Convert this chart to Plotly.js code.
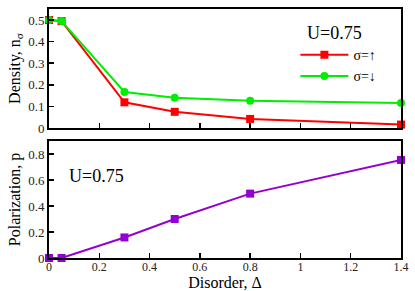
<!DOCTYPE html>
<html>
<head>
<meta charset="utf-8">
<script src="https://cdn.plot.ly/plotly-3.0.1.min.js"></script>
<style>
html,body{margin:0;padding:0;background:#fff;}
#chart{width:415px;height:291px;}
</style>
</head>
<body>
<div id="chart"></div>
<script>
var disorder = [0, 0.05, 0.3, 0.5, 0.8, 1.4];
var densityUp = [0.5, 0.495, 0.119, 0.075, 0.042, 0.016];
var densityDown = [0.5, 0.495, 0.167, 0.140, 0.126, 0.116];
var polarization = [0, 0, 0.158, 0.30, 0.495, 0.754];
var xTicks = [0, 0.2, 0.4, 0.6, 0.8, 1, 1.2, 1.4];
var xTickText = ['0', '0.2', '0.4', '0.6', '0.8', '1', '1.2', '1.4'];
var densTicks = [0, 0.1, 0.2, 0.3, 0.4, 0.5];
var densTickText = ['0', '0.1', '0.2', '0.3', '0.4', '0.5'];
var polTicks = [0, 0.2, 0.4, 0.6, 0.8];
var polTickText = ['0', '0.2', '0.4', '0.6', '0.8'];
var labelU = 'U=0.75';

var serif = 'Liberation Serif';

var traces = [
  {x: disorder, y: densityUp, xaxis: 'x', yaxis: 'y', mode: 'lines+markers', name: 'σ=↑',
   line: {color: '#ff0000', width: 2}, marker: {symbol: 'square', size: 8, color: '#ff0000'}, cliponaxis: false},
  {x: disorder, y: densityDown, xaxis: 'x', yaxis: 'y', mode: 'lines+markers', name: 'σ=↓',
   line: {color: '#00ee00', width: 2}, marker: {symbol: 'circle', size: 8, color: '#00ee00'}, cliponaxis: false},
  {x: disorder, y: polarization, xaxis: 'x2', yaxis: 'y2', mode: 'lines+markers', name: 'p', showlegend: false,
   line: {color: '#9400d3', width: 2}, marker: {symbol: 'square', size: 8, color: '#9400d3'}, cliponaxis: false}
];

function ax(extra) {
  var base = {
    showline: true, linecolor: '#000', linewidth: 2, mirror: true,
    ticks: 'inside', ticklen: 5, tickwidth: 1.5, tickcolor: '#000',
    showgrid: false, zeroline: false,
    tickfont: {family: serif, size: 13, color: '#222'}
  };
  return Object.assign(base, extra);
}

var titleFont = {family: serif, size: 16, color: '#000'};

var layout = {
  width: 415, height: 291,
  margin: {l: 49, r: 14, t: 9, b: 33},
  paper_bgcolor: '#fff', plot_bgcolor: '#fff',
  font: {family: serif, color: '#000'},
  showlegend: true,
  legend: {x: 0.7, y: 0.879, xanchor: 'left', yanchor: 'top', bgcolor: 'rgba(0,0,0,0)',
           font: {family: serif, size: 14, color: '#000'}, tracegroupgap: 0, itemwidth: 48},
  xaxis: ax({anchor: 'y', range: [0, 1.4], tickvals: xTicks, showticklabels: false, domain: [0, 1]}),
  yaxis: ax({domain: [0.522, 1], range: [0, 0.551], tickvals: densTicks, ticktext: densTickText,
    title: {text: 'Density, n<sub>σ</sub>', font: titleFont, standoff: 4}}),
  xaxis2: ax({anchor: 'y2', range: [0, 1.4], tickvals: xTicks, ticktext: xTickText, domain: [0, 1],
    tickfont: {family: serif, size: 12, color: '#222'}, ticklabelstandoff: -3,
    title: {text: 'Disorder, Δ', font: titleFont, standoff: 0}}),
  yaxis2: ax({domain: [0, 0.47], range: [0, 0.9], tickvals: polTicks, ticktext: polTickText,
    title: {text: 'Polarization, p', font: titleFont, standoff: 4}}),
  annotations: [
    {text: labelU, xref: 'paper', yref: 'paper', x: 0.727, y: 0.902, xanchor: 'left', yanchor: 'middle',
     showarrow: false, font: {family: serif, size: 18, color: '#000'}},
    {text: labelU, xref: 'paper', yref: 'paper', x: 0.05, y: 0.33, xanchor: 'left', yanchor: 'middle',
     showarrow: false, font: {family: serif, size: 18, color: '#000'}}
  ]
};

Plotly.newPlot('chart', traces, layout, {displayModeBar: false, staticPlot: true});
</script>
</body>
</html>
